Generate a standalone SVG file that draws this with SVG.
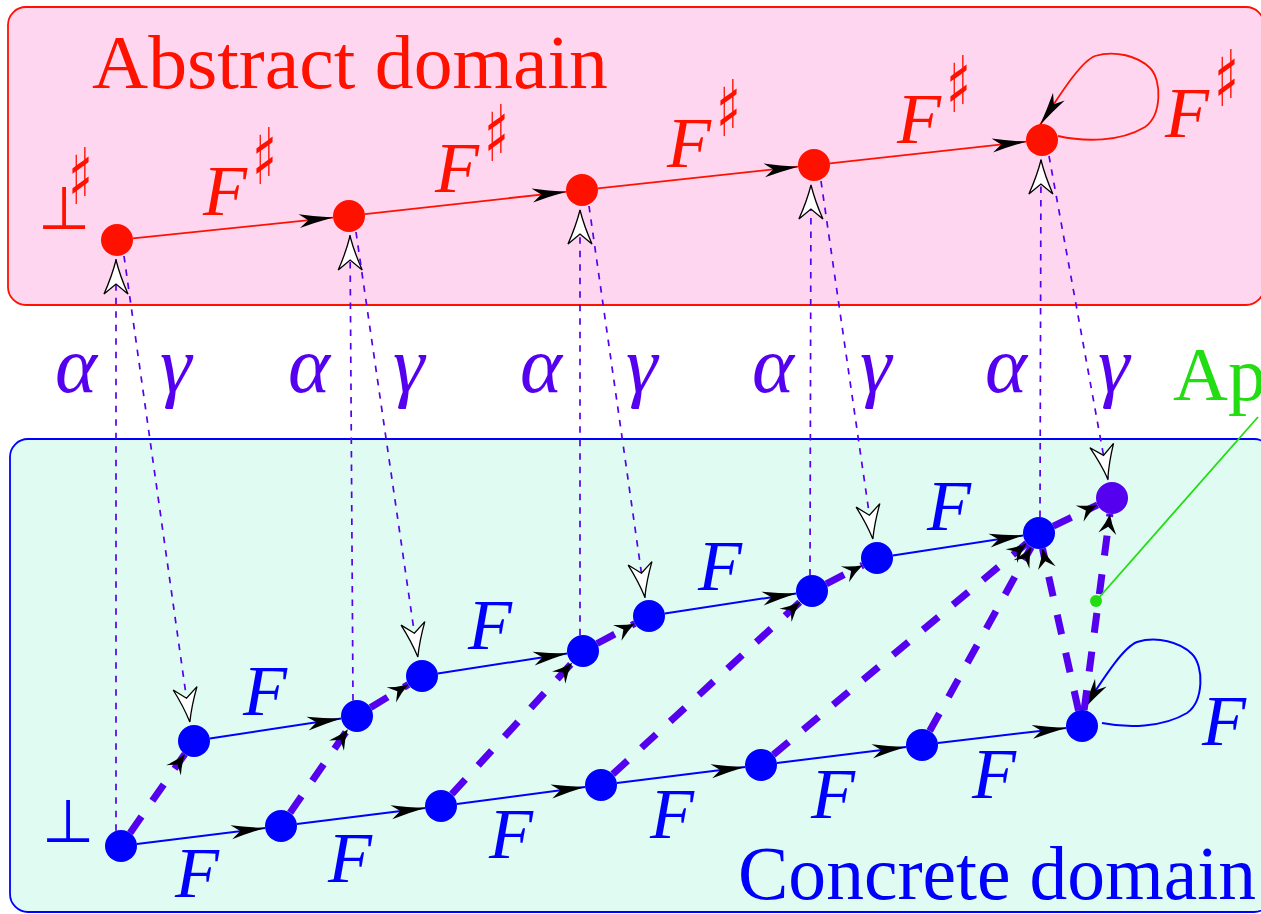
<svg xmlns="http://www.w3.org/2000/svg" width="1261" height="914" viewBox="0 0 1261 914">
<style>
.rm{font-family:"Liberation Serif",serif;font-size:76px}
.it{font-family:"Liberation Serif",serif;font-style:italic;font-size:72px}
.gr{font-family:"Liberation Serif",serif;font-style:italic;font-size:80px;fill:#5500ee}
.sym{font-family:"DejaVu Sans",sans-serif}
.sh{font-family:"DejaVu Sans",sans-serif;font-size:78px;fill:#ff1100}
.red{fill:#ff1100}
.blue{fill:#0000ff}
.rl{stroke:#ff1100;stroke-width:1.8;fill:none;marker-end:url(#stealth)}
.bl{stroke:#0000ff;stroke-width:2;fill:none;marker-end:url(#stealth)}
.td{stroke:#5500ee;stroke-width:7;stroke-dasharray:20 19;fill:none;marker-end:url(#sm)}
.thin{stroke:#5500ee;stroke-width:1.7;stroke-dasharray:6.5 7;fill:none;marker-end:url(#open)}
.rn{fill:#ff1100}
.bn{fill:#0000ff}
</style>
<defs>
<marker id="stealth" markerUnits="userSpaceOnUse" viewBox="-36 -10 38 20" refX="0" refY="0" markerWidth="38" markerHeight="20" orient="auto">
<path d="M0,0 Q-18,-3 -34,-7 L-25,0 L-34,7 Q-18,3 0,0 Z" fill="#000"/>
</marker>
<marker id="sm" markerUnits="userSpaceOnUse" viewBox="-22 -11 24 22" refX="0" refY="0" markerWidth="24" markerHeight="22" orient="auto">
<path d="M0,0 Q-10,-3 -20,-9 L-13,0 L-20,9 Q-10,3 0,0 Z" fill="#000"/>
</marker>
<marker id="open" markerUnits="userSpaceOnUse" viewBox="-38 -14 40 28" refX="0" refY="0" markerWidth="40" markerHeight="28" orient="auto">
<path d="M-1,0 Q-17,-4 -35,-12 L-25,0 L-35,12 Q-17,4 -1,0 Z" fill="#fff" stroke="#000" stroke-width="1.3"/>
</marker>
</defs>

<g id="abstract-box">
<rect x="8" y="7" width="1256" height="298" rx="18" fill="#ffd6f0" stroke="#ff1100" stroke-width="1.8"/>
<text class="rm red" x="92" y="88" textLength="516" lengthAdjust="spacingAndGlyphs">Abstract domain</text>
</g>
<g id="concrete-box">
<rect x="10" y="439" width="1262" height="473" rx="18" fill="#e0fbf2" stroke="#0000ff" stroke-width="1.8"/>
<text class="rm blue" x="738" y="899" textLength="518" lengthAdjust="spacingAndGlyphs">Concrete domain</text>
</g>

<g id="labels">
<text class="sym red" x="38" y="229" font-size="60">⊥</text>
<text class="sh" transform="translate(68,204) scale(0.65,1)">♯</text>
<text class="it red" x="203" y="215">F</text><text class="sh" transform="translate(252,184) scale(0.65,1)">♯</text>
<text class="it red" x="435" y="192">F</text><text class="sh" transform="translate(484,161) scale(0.65,1)">♯</text>
<text class="it red" x="667" y="167">F</text><text class="sh" transform="translate(716,136) scale(0.65,1)">♯</text>
<text class="it red" x="897" y="143">F</text><text class="sh" transform="translate(946,112) scale(0.65,1)">♯</text>
<text class="it red" x="1165" y="137">F</text><text class="sh" transform="translate(1214,106) scale(0.65,1)">♯</text>

<text class="gr" x="55" y="392">α</text><text class="gr" x="160" y="392">γ</text>
<text class="gr" x="288" y="392">α</text><text class="gr" x="393" y="392">γ</text>
<text class="gr" x="520" y="392">α</text><text class="gr" x="626" y="392">γ</text>
<text class="gr" x="752" y="392">α</text><text class="gr" x="860" y="392">γ</text>
<text class="gr" x="985" y="392">α</text><text class="gr" x="1098" y="392">γ</text>

<text class="sym blue" x="42" y="842" font-size="60">⊥</text>
<text class="it blue" x="243" y="715">F</text>
<text class="it blue" x="468" y="649">F</text>
<text class="it blue" x="698" y="590">F</text>
<text class="it blue" x="927" y="530">F</text>
<text class="it blue" x="175" y="897">F</text>
<text class="it blue" x="328" y="882">F</text>
<text class="it blue" x="489" y="858">F</text>
<text class="it blue" x="650" y="838">F</text>
<text class="it blue" x="811" y="818">F</text>
<text class="it blue" x="972" y="798">F</text>
<text class="it blue" x="1202" y="745">F</text>
<text class="rm" x="1173" y="400" font-size="72" fill="#22dd11">Ap</text>
</g>

<g id="connectors">
<line class="rl" x1="132.9" y1="238.4" x2="333.1" y2="217.6"/>
<line class="rl" x1="364.9" y1="214.2" x2="566.1" y2="191.8"/>
<line class="rl" x1="597.9" y1="188.3" x2="798.1" y2="166.7"/>
<line class="rl" x1="829.9" y1="163.3" x2="1026.1" y2="141.7"/>
<path class="rl" transform="translate(1040,140)" d="M18,-4 C45,2 80,2 105,-13 C122,-25 122,-60 110,-72 C98,-84 75,-90 55,-84 C40,-78 20,-45 0,-15"/>

<line class="bl" x1="136.9" y1="844.0" x2="265.1" y2="828.0"/>
<line class="bl" x1="296.9" y1="824.0" x2="425.1" y2="808.0"/>
<line class="bl" x1="456.9" y1="803.9" x2="585.1" y2="787.1"/>
<line class="bl" x1="616.9" y1="783.0" x2="745.1" y2="767.0"/>
<line class="bl" x1="776.9" y1="763.0" x2="906.1" y2="747.0"/>
<line class="bl" x1="937.9" y1="743.1" x2="1066.1" y2="727.9"/>
<line class="bl" x1="209.8" y1="738.6" x2="341.2" y2="718.4"/>
<line class="bl" x1="437.8" y1="673.5" x2="567.2" y2="653.5"/>
<line class="bl" x1="664.8" y1="613.6" x2="796.2" y2="593.4"/>
<line class="bl" x1="892.8" y1="555.6" x2="1023.2" y2="535.4"/>
<path class="bl" transform="translate(1082,726)" d="M20,-3 C45,2 80,2 105,-13 C122,-25 122,-60 110,-72 C98,-84 75,-90 55,-84 C40,-78 20,-45 0,-15"/>

<line class="thin" x1="116" y1="830.8" x2="116" y2="259"/>
<line class="thin" x1="353" y1="700.5" x2="350" y2="235"/>
<line class="thin" x1="580" y1="635.3" x2="580" y2="209"/>
<line class="thin" x1="810" y1="575.5" x2="811" y2="184"/>
<line class="thin" x1="1040" y1="517" x2="1041" y2="159"/>
<line class="thin" x1="124" y1="256" x2="190" y2="723"/>
<line class="thin" x1="356" y1="232" x2="418" y2="658"/>
<line class="thin" x1="589" y1="206" x2="645" y2="598"/>
<line class="thin" x1="821" y1="181" x2="873" y2="540"/>
<line class="thin" x1="1049" y1="156" x2="1108" y2="480"/>

<line class="td" x1="130.1" y1="832.9" x2="184.9" y2="753.9"/>
<line class="td" x1="290.1" y1="812.8" x2="347.9" y2="729.2"/>
<line class="td" x1="370.6" y1="707.6" x2="408.4" y2="684.4"/>
<line class="td" x1="451.8" y1="794.2" x2="572.2" y2="662.8"/>
<line class="td" x1="597.1" y1="643.5" x2="634.9" y2="623.5"/>
<line class="td" x1="612.8" y1="774.2" x2="800.2" y2="601.8"/>
<line class="td" x1="826.3" y1="583.8" x2="862.7" y2="565.2"/>
<line class="td" x1="773.3" y1="754.7" x2="1026.7" y2="543.3"/>
<line class="td" x1="929.7" y1="731.0" x2="1031.3" y2="547.0"/>
<line class="td" x1="1078.5" y1="710.4" x2="1042.5" y2="548.6"/>
<line class="td" x1="1053.4" y1="526.1" x2="1097.6" y2="504.9"/>
<line class="td" x1="1084.1" y1="710.1" x2="1109.9" y2="513.9"/>

<line x1="1096" y1="601" x2="1258" y2="417" stroke="#22dd11" stroke-width="1.8"/>
</g>

<g id="A0"><circle class="rn" cx="117" cy="240" r="16"/></g>
<g id="A1"><circle class="rn" cx="349" cy="216" r="16"/></g>
<g id="A2"><circle class="rn" cx="582" cy="190" r="16"/></g>
<g id="A3"><circle class="rn" cx="814" cy="165" r="16"/></g>
<g id="A4"><circle class="rn" cx="1042" cy="140" r="16"/></g>

<g id="B0"><circle class="bn" cx="121" cy="846" r="16"/></g>
<g id="B1"><circle class="bn" cx="281" cy="826" r="16"/></g>
<g id="B2"><circle class="bn" cx="441" cy="806" r="16"/></g>
<g id="B3"><circle class="bn" cx="601" cy="785" r="16"/></g>
<g id="B4"><circle class="bn" cx="761" cy="765" r="16"/></g>
<g id="B5"><circle class="bn" cx="922" cy="745" r="16"/></g>
<g id="B6"><circle class="bn" cx="1082" cy="726" r="16"/></g>
<g id="M1"><circle class="bn" cx="194" cy="741" r="16"/></g>
<g id="M2"><circle class="bn" cx="357" cy="716" r="16"/></g>
<g id="N2"><circle class="bn" cx="422" cy="676" r="16"/></g>
<g id="N3"><circle class="bn" cx="583" cy="651" r="16"/></g>
<g id="P3"><circle class="bn" cx="649" cy="616" r="16"/></g>
<g id="Q3"><circle class="bn" cx="812" cy="591" r="16"/></g>
<g id="R"><circle class="bn" cx="877" cy="558" r="16"/></g>
<g id="S"><circle class="bn" cx="1039" cy="533" r="16"/></g>
<g id="T"><circle cx="1112" cy="498" r="16" fill="#5500ee"/></g>
<g id="approx-point"><circle cx="1096" cy="601" r="6" fill="#22dd11"/></g>
</svg>
